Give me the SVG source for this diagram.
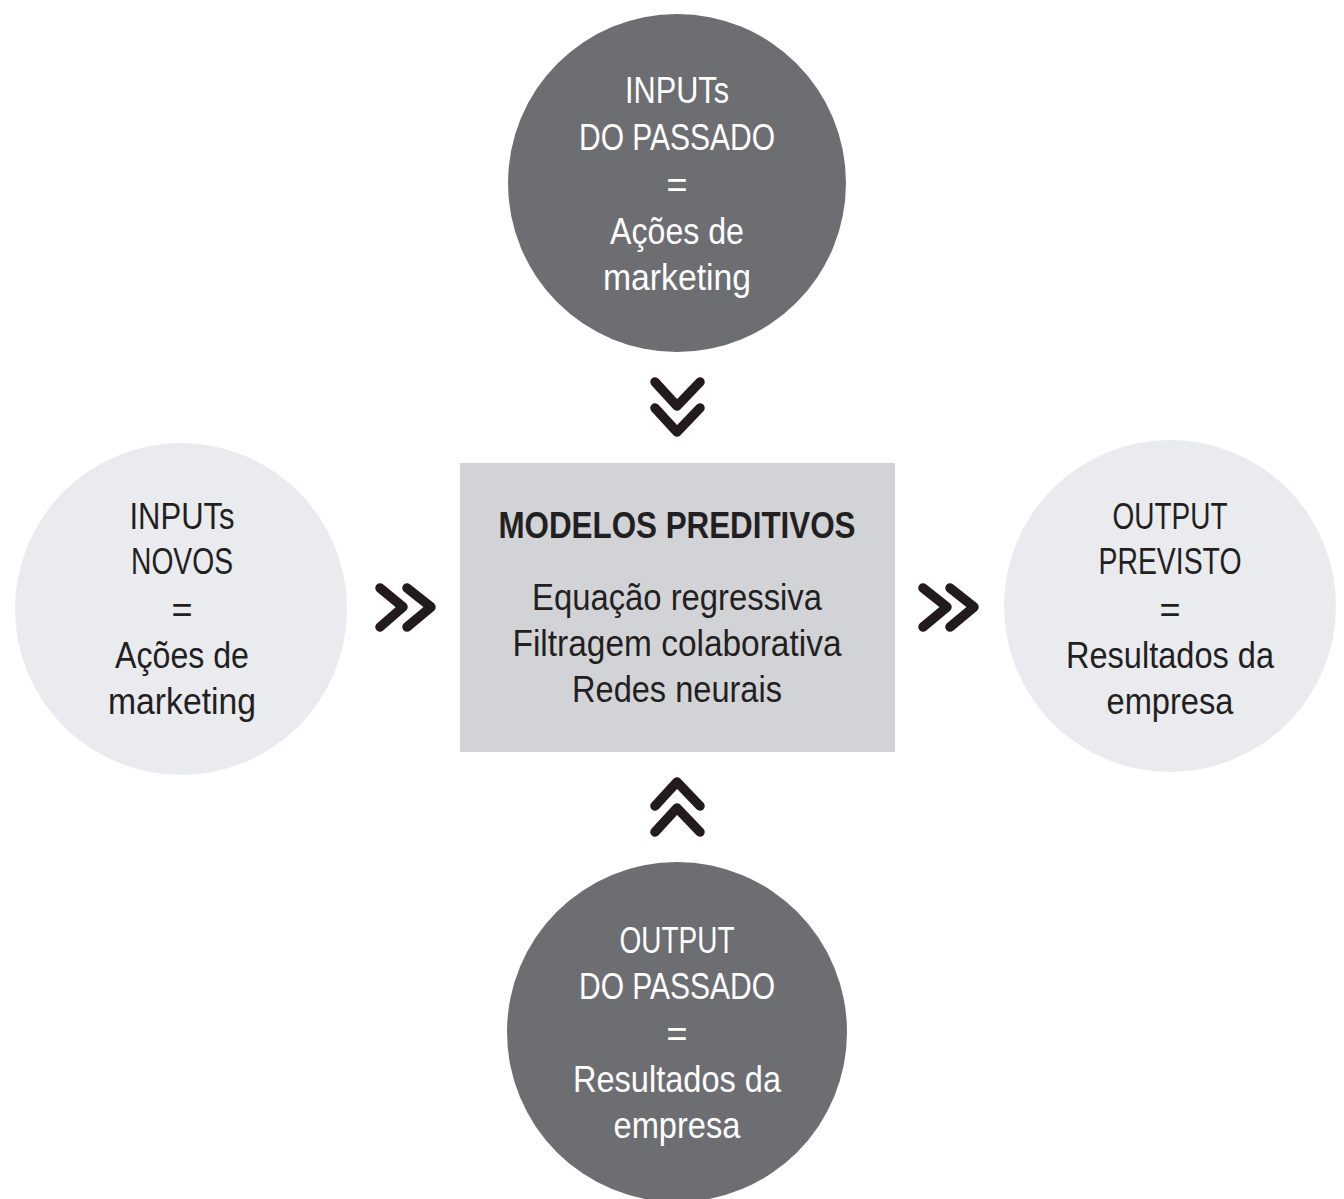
<svg xmlns="http://www.w3.org/2000/svg" width="1344" height="1199" viewBox="0 0 1344 1199">
<style>
.dark{fill:#6d6e72}
.light{fill:#e9ebef}
.box{fill:#d1d3d7}
text{font-family:"Liberation Sans",Arial,sans-serif;font-size:36px;text-anchor:middle}
.w{fill:#ffffff}
.k{fill:#231f20}
.b{font-weight:bold;font-size:36px}
.chev{fill:none;stroke:#231a1b;stroke-width:9.5;stroke-linecap:round;stroke-linejoin:round}
</style>
<rect width="1344" height="1199" fill="#ffffff"/>
<g id="node-inputs-passado">
<circle class="dark" cx="677" cy="183" r="169"/>
<text class="w" x="677" y="103" textLength="104" lengthAdjust="spacingAndGlyphs">INPUTs</text>
<text class="w" x="677" y="150" textLength="196" lengthAdjust="spacingAndGlyphs">DO PASSADO</text>
<text class="w" x="677" y="197">=</text>
<text class="w" x="677" y="244" textLength="134" lengthAdjust="spacingAndGlyphs">Ações de</text>
<text class="w" x="677" y="290" textLength="148" lengthAdjust="spacingAndGlyphs">marketing</text>
</g>
<g id="node-inputs-novos">
<circle class="light" cx="181" cy="609" r="166"/>
<text class="k" x="182" y="529" textLength="105" lengthAdjust="spacingAndGlyphs">INPUTs</text>
<text class="k" x="182" y="574" textLength="102" lengthAdjust="spacingAndGlyphs">NOVOS</text>
<text class="k" x="182" y="622">=</text>
<text class="k" x="182" y="668" textLength="134" lengthAdjust="spacingAndGlyphs">Ações de</text>
<text class="k" x="182" y="714" textLength="148" lengthAdjust="spacingAndGlyphs">marketing</text>
</g>
<g id="node-modelos">
<rect class="box" x="460" y="463" width="435" height="289"/>
<text class="k b" x="677" y="538" textLength="357" lengthAdjust="spacingAndGlyphs">MODELOS PREDITIVOS</text>
<text class="k" x="677" y="610" textLength="290" lengthAdjust="spacingAndGlyphs">Equação regressiva</text>
<text class="k" x="677" y="656" textLength="329" lengthAdjust="spacingAndGlyphs">Filtragem colaborativa</text>
<text class="k" x="677" y="702" textLength="210" lengthAdjust="spacingAndGlyphs">Redes neurais</text>
</g>
<g id="node-output-previsto">
<circle class="light" cx="1170" cy="606" r="166"/>
<text class="k" x="1170" y="529" textLength="115" lengthAdjust="spacingAndGlyphs">OUTPUT</text>
<text class="k" x="1170" y="574" textLength="143" lengthAdjust="spacingAndGlyphs">PREVISTO</text>
<text class="k" x="1170" y="622">=</text>
<text class="k" x="1170" y="668" textLength="208" lengthAdjust="spacingAndGlyphs">Resultados da</text>
<text class="k" x="1170" y="714" textLength="127" lengthAdjust="spacingAndGlyphs">empresa</text>
</g>
<g id="node-output-passado">
<circle class="dark" cx="677" cy="1032" r="170"/>
<text class="w" x="677" y="953" textLength="115" lengthAdjust="spacingAndGlyphs">OUTPUT</text>
<text class="w" x="677" y="999" textLength="196" lengthAdjust="spacingAndGlyphs">DO PASSADO</text>
<text class="w" x="677" y="1046">=</text>
<text class="w" x="677" y="1092" textLength="208" lengthAdjust="spacingAndGlyphs">Resultados da</text>
<text class="w" x="677" y="1138" textLength="127" lengthAdjust="spacingAndGlyphs">empresa</text>
</g>
<g id="connectors">
<path class="chev" d="M655,382 L677,406 L700,382 M655,408 L677,432 L700,408"/>
<path class="chev" d="M655,806 L677,782 L700,806 M655,832 L677,808 L700,832"/>
<path class="chev" d="M380,588 L403,607 L380,627 M407,588 L431,607 L407,627"/>
<path class="chev" d="M923,588 L947,607 L923,627 M950,588 L974,607 L950,627"/>
</g>
</svg>
